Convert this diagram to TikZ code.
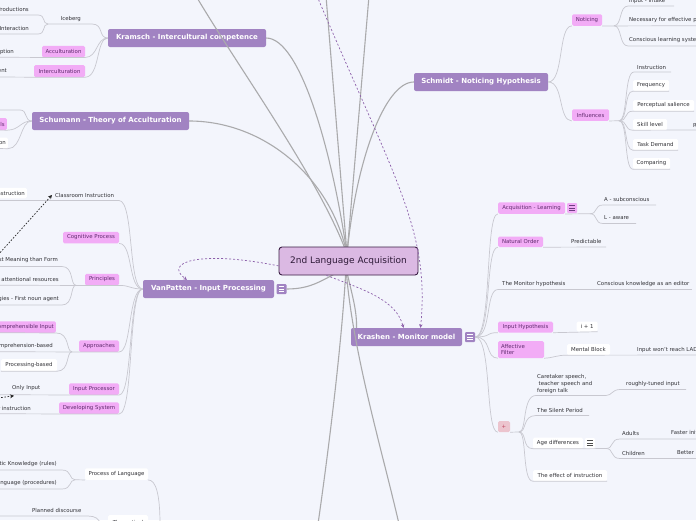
\documentclass[tikz,border=0pt]{standalone}
\usepackage{fontspec}
\setmainfont{DejaVu Sans}
\usetikzlibrary{arrows.meta}
\definecolor{bgc}{RGB}{243,245,252}
\definecolor{mainc}{RGB}{161,131,194}
\definecolor{pinkc}{RGB}{242,172,246}
\definecolor{pinktxt}{RGB}{96,44,110}
\definecolor{centerc}{RGB}{219,185,227}
\definecolor{centerbd}{RGB}{58,30,68}
\definecolor{centertxt}{RGB}{45,25,55}
\definecolor{txtc}{RGB}{50,50,55}
\definecolor{linec}{RGB}{200,200,208}
\definecolor{hubc}{RGB}{170,170,172}
\definecolor{dashc}{RGB}{140,95,170}
\definecolor{plusc}{RGB}{236,196,206}
\definecolor{plustxt}{RGB}{190,70,95}
\definecolor{iconln}{RGB}{110,60,130}
\newcommand\myChild{\fontsize{5.4}{6.6}\selectfont}
\newcommand\myMain{\fontsize{7}{8.4}\selectfont\bfseries}
\newcommand\myCenter{\fontsize{9}{11}\selectfont}
\newcommand\mymenu[4]{%
  \node[fill=#3, rounded corners=1pt, minimum size=10pt, inner sep=0pt] (#1) at (#2) {};
  \draw[#4, line width=0.55pt] ([shift={(-2.6,-2.3)}]#1.center) -- ++(5.2,0)
    ([shift={(-2.6,0)}]#1.center) -- ++(5.2,0)
    ([shift={(-2.6,2.3)}]#1.center) -- ++(5.2,0);}
\tikzset{
  txt/.style={font=\myChild, text=txtc, inner sep=0pt},
  pbox/.style={fill=pinkc, rounded corners=1.5pt, font=\myChild, text=pinktxt, inner sep=0pt},
  wbox/.style={fill=white, rounded corners=1.5pt, font=\myChild, text=txtc, inner sep=0pt},
  mainnode/.style={fill=mainc, rounded corners=2pt, font=\myMain, text=white, inner sep=0pt},
  centernode/.style={fill=centerc, draw=centerbd, line width=0.9pt, rounded corners=3pt, font=\myCenter, text=centertxt, inner sep=0pt},
  conn/.style={draw=linec, line width=0.7pt},
  hubline/.style={draw=hubc, line width=1.1pt},
  pdash/.style={draw=dashc, dash pattern=on 2pt off 2pt, line width=0.7pt, -{Stealth[length=3.5pt,width=3.5pt]}},
  kdash/.style={draw=black!85, dash pattern=on 1.6pt off 1.6pt, line width=0.7pt, -{Stealth[length=4pt,width=4pt]}}
}
\begin{document}
\begin{tikzpicture}[x=1pt,y=-1pt]
\fill[bgc] (0,0) rectangle (696,520);
\useasboundingbox (0,0) rectangle (696,520);
\begin{scope}
\clip (0,0) rectangle (696,520);

% ---------- main nodes
\node[mainnode, minimum width=158pt, minimum height=18pt] (kr) at (187,38) {Kramsch - Intercultural competence};
\node[mainnode, minimum width=157pt, minimum height=18pt] (sch) at (110.5,121) {Schumann - Theory of Acculturation};
\node[mainnode, minimum width=131pt, minimum height=18pt] (vp) at (208.5,289) {VanPatten - Input Processing};
\mymenu{vpi}{281.5,289}{mainc}{white}
\node[mainnode, minimum width=134pt, minimum height=18pt] (smt) at (481,82) {Schmidt - Noticing Hypothesis};
\node[mainnode, minimum width=111pt, minimum height=18pt] (ksh) at (406.5,337) {Krashen - Monitor model};
\mymenu{kshi}{470,337}{mainc}{white}

% ---------- hub lines
\coordinate (hub) at (347,254);
\coordinate (hubS) at (346,268);
\coordinate (t1) at (196,-4);
\coordinate (t2) at (326,-4);
\coordinate (t3) at (369,-4);
\coordinate (b1) at (318,524);
\coordinate (b2) at (399,524);
\draw[hubline] (hub) .. controls (320,180) and (240,70) .. (t1);
\draw[hubline] (hub) -- (t2);
\draw[hubline] (hub) -- (t3);
\draw[hubline] (kr.east) .. controls (300,38) and (332,150) .. (hub);
\draw[hubline] (sch.east) .. controls (262,121) and (330,175) .. (hub);
\draw[hubline] (smt.west) .. controls (385,82) and (356,160) .. (hub);
\draw[hubline] (vpi.east) .. controls (312,289) and (322,280) .. (hubS);
\draw[hubline] (hubS) .. controls (342,340) and (330,440) .. (b1);
\draw[hubline] (hubS) .. controls (352,350) and (382,450) .. (b2);
\draw[hubline] (hubS) .. controls (352,295) and (357,310) .. ([xshift=-50pt]ksh.north);

% ---------- center
\node[centernode, minimum width=139pt, minimum height=28pt] (c) at (348.5,261) {2nd Language Acquisition};

% ---------- dashed relations
\coordinate (dtop) at (317,-4);
\draw[pdash] (c.184) .. controls (200,250) and (163,262) .. ([xshift=44pt]vp.north west);
\draw[pdash] ([xshift=-22pt]c.south) .. controls (365,290) and (396,300) .. ([xshift=-3pt]ksh.north);
\draw[pdash] (dtop) .. controls (395,180) and (430,230) .. ([xshift=14pt]ksh.north);

% ---------- Kramsch children
\node[txt, anchor=west] (ice) at (60.5,19) {Iceberg};
\node[txt, anchor=east] (prod) at (29,9) {Productions};
\node[txt, anchor=east] (inter) at (29,28) {Interaction};
\coordinate (icef) at (48,24);
\draw[conn] (kr.west) .. controls (98,38) and (104,24) .. (92,24) -- (icef);
\draw[conn] (icef) .. controls (42,24) and (46,15) .. (38,15) -- (-2,15);
\draw[conn] (icef) .. controls (42,24) and (46,34) .. (38,34) -- (-2,34);
\node[pbox, minimum width=43pt, minimum height=11.5pt] (acc) at (63.5,51.5) {Acculturation};
\node[txt, anchor=east] (perc) at (14,52) {Perception};
\draw[conn] (-2,57.25) -- (acc.south west) -- (acc.south east) .. controls (98,57.25) and (96,38) .. (kr.west);
\node[pbox, minimum width=51pt, minimum height=12pt] (intc) at (59.5,71) {Interculturation};
\node[txt, anchor=east] (adj) at (7,71) {Adjustment};
\draw[conn] (-2,77) -- (intc.south west) -- (intc.south east) .. controls (100,77) and (96,38) .. (kr.west);

% ---------- Schumann children
\node[pbox, anchor=east, minimum height=12pt, inner xsep=2pt] (sgoal) at (7,124) {Goals};
\node[wbox, anchor=east, minimum height=11pt, inner xsep=2pt] (sint) at (8,143) {Integration};
\draw[conn] (sch.west) .. controls (24,121) and (28,110) .. (20,110) -- (-2,110);
\draw[conn] (sch.west) .. controls (20,121) and (20,130) .. (sgoal.south east) -- (-2,130);
\draw[conn] (sch.west) .. controls (20,121) and (22,148.5) .. (sint.south east) -- (-2,148.5);

% ---------- VanPatten children
\node[txt, anchor=west] (cli) at (55,195) {Classroom Instruction};
\node[wbox, anchor=east, minimum height=10.5pt, inner xsep=2pt] (trad) at (27,193) {Traditional instruction};
\draw[conn] (-2,200.5) -- (119,200.5) .. controls (134,200.5) and (128,289) .. (vp.west);
\node[pbox, minimum width=56pt, minimum height=11.5pt] (cog) at (91,237.5) {Cognitive Process};
\draw[conn] (cog.south east) .. controls (133,243.25) and (128,289) .. (vp.west);
\node[pbox, minimum width=34pt, minimum height=11.5pt] (prin) at (102,279.5) {Principles};
\node[txt, anchor=east] (p1) at (58,260) {First Meaning than Form};
\node[txt, anchor=east] (p2) at (59,279) {Limited attentional resources};
\node[txt, anchor=east] (p3) at (59,299) {Strategies - First noun agent};
\coordinate (prf) at (76,285.25);
\draw[conn] (-2,285.25) -- (prin.south west) -- (prin.south east) .. controls (130,285.25) and (130,289) .. (vp.west);
\draw[conn] (prf) .. controls (70,285.25) and (74,266.5) .. (62,266.5) -- (-2,266.5);
\draw[conn] (prf) .. controls (70,285.25) and (74,305) .. (62,305) -- (-2,305);
\node[pbox, minimum width=40pt, minimum height=11.5pt] (appr) at (99,346) {Approaches};
\node[pbox, anchor=east, minimum height=11.5pt, inner xsep=2pt] (ci) at (56,327) {Comprehensible Input};
\node[txt, anchor=east] (cb) at (53,346) {Comprehension-based};
\node[wbox, minimum width=56pt, minimum height=12pt] (pb) at (29,365) {Processing-based};
\coordinate (apf) at (72,351.75);
\draw[conn] (-2,351.75) -- (appr.south west) -- (appr.south east) .. controls (132,351.75) and (128,289) .. (vp.west);
\draw[conn] (apf) .. controls (66,351.75) and (70,332.75) .. (ci.south east) -- (-2,332.75);
\draw[conn] (apf) .. controls (66,351.75) and (70,371) .. (pb.south east) -- (pb.south west);
\node[pbox, minimum width=50pt, minimum height=11.5pt] (ip) at (94,389) {Input Processor};
\node[txt, anchor=west] (oi) at (12,388) {Only Input};
\draw[conn] (-2,394.75) -- (ip.south west) -- (ip.south east) .. controls (133,394.75) and (128,289) .. (vp.west);
\node[pbox, minimum width=60pt, minimum height=11.5pt] (ds) at (89,408) {Developing System};
\node[txt, anchor=east] (gi) at (31,408) {Grammar instruction};
\draw[conn] (-2,413.75) -- (ds.south west) -- (ds.south east) .. controls (134,413.75) and (128,289) .. (vp.west);
\coordinate (kd1) at (-2,255);
\coordinate (kd2) at (-2,398);
\draw[kdash] (kd1) -- ([xshift=-3pt]cli.west);
\draw[kdash] (kd2) -- ([shift={(2,5)}]oi.south west);

% ---------- Process of Language
\node[wbox, minimum width=63pt, minimum height=11.5pt] (pol) at (116.5,474) {Process of Language};
\node[txt, anchor=east] (lk) at (57,464) {Linguistic Knowledge (rules)};
\node[txt, anchor=east] (ul) at (57,483) {Using Language (procedures)};
\coordinate (polf) at (75,479.75);
\draw[conn] (polf) -- (pol.south west);
\draw[conn] (polf) .. controls (69,479.75) and (72,470) .. (62,470) -- (-2,470);
\draw[conn] (polf) .. controls (69,479.75) and (72,489) .. (62,489) -- (-2,489);
\coordinate (polb) at (160,524);
\draw[conn] (pol.south east) .. controls (156,479.75) and (160,495) .. (polb);
\node[txt, anchor=west] (pd) at (32,510.5) {Planned discourse};
\coordinate (pdb) at (100,524);
\draw[conn] (-2,516) -- (88,516) .. controls (95,516) and (100,519) .. (pdb);
\node[wbox, minimum width=40pt, minimum height=14pt] (theo) at (128,522) {Theoretical};

% ---------- Schmidt children
\node[pbox, minimum width=30pt, minimum height=11.5pt] (not) at (587,20) {Noticing};
\node[pbox, minimum width=37pt, minimum height=11.5pt] (infl) at (590.5,115) {Influences};
\draw[conn] (smt.east) .. controls (564,82) and (558,25.75) .. (not.south west);
\draw[conn] (smt.east) .. controls (564,82) and (558,120.75) .. (infl.south west);
\node[txt, anchor=west] (ii) at (629,1) {Input - Intake};
\node[txt, anchor=west] (nep) at (629,20) {Necessary for effective processing};
\node[txt, anchor=west] (cls) at (629,40) {Conscious learning system};
\coordinate (notf) at (614,25.75);
\draw[conn] (not.south east) -- (698,25.75);
\draw[conn] (notf) .. controls (622,25.75) and (619,6) .. (628,6) -- (674,6);
\draw[conn] (notf) .. controls (622,25.75) and (619,46) .. (628,46) -- (698,46);
\node[txt, anchor=west] (ins) at (637,67) {Instruction};
\node[wbox, minimum width=36pt, minimum height=11pt] (freq) at (651,85.5) {Frequency};
\node[wbox, minimum width=61pt, minimum height=11pt] (ps) at (663.5,105.5) {Perceptual salience};
\node[wbox, minimum width=34pt, minimum height=11pt] (sk) at (650,124.5) {Skill level};
\node[txt, anchor=west] (rel) at (693,125) {Relevance};
\node[wbox, minimum width=45pt, minimum height=11pt] (td) at (655.5,144.5) {Task Demand};
\node[wbox, minimum width=37pt, minimum height=11pt] (cmp) at (651.5,163.5) {Comparing};
\coordinate (inff) at (619,120.75);
\draw[conn] (infl.south east) -- (inff);
\draw[conn] (inff) .. controls (628,120.75) and (624,72) .. (634,72) -- (671,72);
\draw[conn] (inff) .. controls (628,120.75) and (624,91) .. (freq.south west) -- (freq.south east);
\draw[conn] (inff) .. controls (628,120.75) and (624,111) .. (ps.south west) -- (ps.south east);
\draw[conn] (inff) .. controls (628,120.75) and (624,130) .. (sk.south west) -- (698,130);
\draw[conn] (inff) .. controls (628,120.75) and (624,150) .. (td.south west) -- (td.south east);
\draw[conn] (inff) .. controls (628,120.75) and (624,169) .. (cmp.south west) -- (cmp.south east);

% ---------- Krashen children
\node[pbox, minimum width=67pt, minimum height=11.5pt] (acq) at (531.5,208) {Acquisition - Learning};
\node[pbox, minimum width=45pt, minimum height=10.5pt] (no) at (520.5,241.75) {Natural Order};
\coordinate (tmhL) at (498,289.5);
\node[txt, anchor=west] (tmh) at (502,284) {The Monitor hypothesis};
\node[pbox, minimum width=55pt, minimum height=11pt] (ih) at (525.5,327) {Input Hypothesis};
\node[pbox, text width=40pt, align=left, inner xsep=3pt, minimum height=17pt] (af) at (521,349.5) {Affective\\Filter};
\node[fill=plusc, rounded corners=1.5pt, minimum width=12pt, minimum height=11pt, inner sep=0pt, text=plustxt, font=\myChild] (plus) at (504,426.5) {+};
\draw[conn] (kshi.east) .. controls (492,337) and (485,213.75) .. (acq.south west);
\draw[conn] (kshi.east) .. controls (492,337) and (485,247) .. (no.south west);
\draw[conn] (kshi.east) .. controls (492,337) and (485,289.5) .. (tmhL);
\draw[conn] (kshi.east) .. controls (492,337) and (485,332.5) .. (ih.south west);
\draw[conn] (kshi.east) .. controls (492,337) and (485,358) .. (af.south west);
\draw[conn] (kshi.east) .. controls (492,337) and (485,432) .. (plus.south west);

\node[txt, anchor=west] (asub) at (604,199) {A - subconscious};
\node[txt, anchor=west] (law) at (604,218) {L - aware};
\coordinate (acqf) at (590,213.75);
\draw[conn] (acq.south east) -- (acqf);
\mymenu{acqi}{572,208}{pinkc}{iconln}
\draw[conn] (acqf) .. controls (598,213.75) and (594,205) .. (603,205) -- (656,205);
\draw[conn] (acqf) .. controls (598,213.75) and (594,223.5) .. (603,223.5) -- (636,223.5);
\node[txt, anchor=west] (pred) at (571,241) {Predictable};
\draw[conn] (no.south east) -- (606,247);
\node[txt, anchor=west] (cke) at (597,284) {Conscious knowledge as an editor};
\draw[conn] (tmhL) -- (692,289.5);
\node[wbox, minimum width=21pt, minimum height=10pt] (i1) at (587,326.5) {i + 1};
\draw[conn] (ih.south east) -- (i1.south east);
\node[wbox, minimum width=43pt, minimum height=11pt] (mb) at (588.5,349.5) {Mental Block};
\node[txt, anchor=west] (iwr) at (637,350) {Input won't reach LAD};
\draw[conn] (af.south east) .. controls (553,358) and (557,355) .. (mb.south west) -- (698,355);

\node[txt, anchor=north west, align=left] (care) at (537,374.5) {Caretaker speech,\\\hspace*{1.5pt}teacher speech and\\foreign talk};
\node[txt, anchor=west] (rti) at (626,384) {roughly-tuned input};
\node[txt, anchor=west] (sil) at (537,410) {The Silent Period};
\node[wbox, minimum width=50pt, minimum height=11pt] (age) at (558,443) {Age differences};
\node[wbox, minimum width=74pt, minimum height=11pt] (eff) at (570,475.5) {The effect of instruction};
\coordinate (plusf) at (519,432);
\draw[conn] (plus.south east) -- (plusf);
\draw[conn] (plusf) .. controls (527,432) and (522,395.5) .. (536,395.5) -- (606,395.5) .. controls (612,395.5) and (612,389.5) .. (620,389.5) -- (686,389.5);
\draw[conn] (plusf) .. controls (527,432) and (522,415.5) .. (536,415.5) -- (589,415.5);
\draw[conn] (plusf) .. controls (527,432) and (522,448.5) .. (age.south west) -- (age.south east);
\draw[conn] (plusf) .. controls (527,432) and (522,481) .. (eff.south west) -- (eff.south east);
\coordinate (agef) at (606,448.5);
\draw[conn] (age.south east) -- (agef);
\mymenu{agei}{590,443}{white}{black!70}
\node[txt, anchor=west] (adu) at (622,433) {Adults};
\node[txt, anchor=west] (fas) at (671,433) {Faster initially};
\node[txt, anchor=west] (chi) at (622,453) {Children};
\node[txt, anchor=west] (bet) at (677,453) {Better in the long run};
\draw[conn] (agef) .. controls (614,448.5) and (610,439) .. (620,439) -- (698,439);
\draw[conn] (agef) .. controls (614,448.5) and (610,458.5) .. (620,458.5) -- (698,458.5);
\end{scope}
\end{tikzpicture}
\end{document}
